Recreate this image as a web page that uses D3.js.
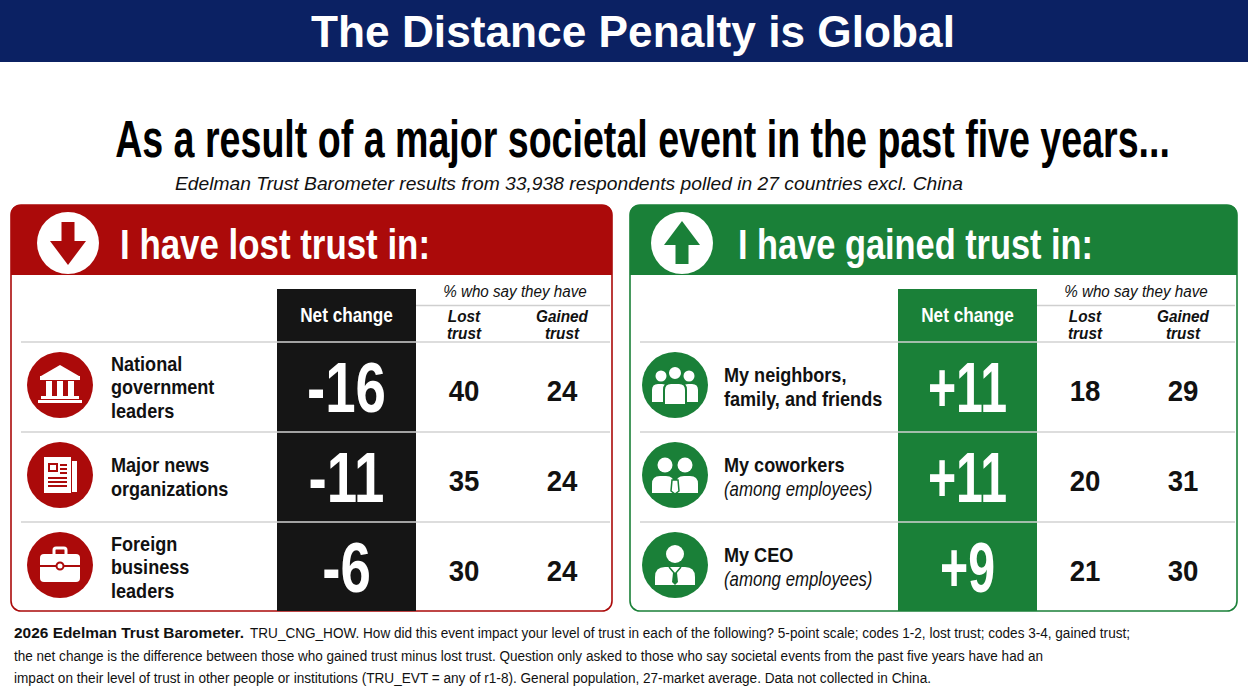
<!DOCTYPE html>
<html lang="en">
<head>
<meta charset="utf-8">
<title>The Distance Penalty is Global</title>
<style>
  html, body { margin: 0; padding: 0; background: #fff; }
  svg { display: block; }
  text { font-family: "Liberation Sans", Arial, Helvetica, sans-serif; }
</style>
</head>
<body>
<script src="https://cdn.jsdelivr.net/npm/d3@7/dist/d3.min.js"></script>
<script>
// data
var rowIdx = [0, 1, 2];
var colKeys = ["net", "lost", "gained"];
var colHeads = [["Lost", "trust"], ["Gained", "trust"]];

var lostLabels = [["National", "government", "leaders"], ["Major news", "organizations"], ["Foreign", "business", "leaders"]];
var lostNet = [-16, -11, -6];
var lostLostPct = [40, 35, 30];
var lostGainedPct = [24, 24, 24];

var gainLabels = [["My neighbors,", "family, and friends"], ["My coworkers", "(among employees)"], ["My CEO", "(among employees)"]];
var gainNet = [11, 11, 9];
var gainLostPct = [18, 20, 21];
var gainGainedPct = [29, 31, 30];

var footLines = [
    ["2026 Edelman Trust Barometer.", "TRU_CNG_HOW. How did this event impact your level of trust in each of the following? 5-point scale; codes 1-2, lost trust; codes 3-4, gained trust;"],
    ["", "the net change is the difference between those who gained trust minus lost trust.  Question only asked to those who say societal events from the past five years have had an"],
    ["", "impact on their level of trust in other people or institutions (TRU_EVT = any of  r1-8). General population, 27-market average. Data not collected in China."]
];

var RED = "#ab0a0a", GREEN = "#1a8038", NAVY = "#0b2163", INK = "#111";

// squeeze text to fake a condensed face
function squeeze(sel, k) {
    sel.each(function () {
        var w = this.getComputedTextLength();
        d3.select(this).attr("textLength", w * k).attr("lengthAdjust", "spacingAndGlyphs");
    });
}
function fit(sel, w) {
    sel.attr("textLength", w).attr("lengthAdjust", "spacingAndGlyphs");
}

function topRounded(x, y, w, h, r) {
    return "M" + x + "," + (y + h) + "V" + (y + r) + "Q" + x + "," + y + " " + (x + r) + "," + y +
        "H" + (x + w - r) + "Q" + (x + w) + "," + y + " " + (x + w) + "," + (y + r) + "V" + (y + h) + "Z";
}
function roundTopBody(x0, y0, x1, y1, r) {
    return "M" + x0 + "," + y1 + "V" + (y0 + r) + "Q" + x0 + "," + y0 + " " + (x0 + r) + "," + y0 +
        "H" + (x1 - r) + "Q" + x1 + "," + y0 + " " + x1 + "," + (y0 + r) + "V" + y1 + "Z";
}

// icon painters, drawn around (0,0) on a coloured disc
var icons = {
    gov: function (g, c) {
        g.append("path").attr("d", "M-19,-9L0,-20L19,-9Z").attr("fill", "#fff");
        g.append("rect").attr("x", -20).attr("y", -9).attr("width", 40).attr("height", 4).attr("fill", "#fff");
        [-14, -3, 8].forEach(function (cx) {
            g.append("rect").attr("x", cx).attr("y", -4).attr("width", 6).attr("height", 15).attr("fill", "#fff");
        });
        g.append("rect").attr("x", -19).attr("y", 11).attr("width", 38).attr("height", 3).attr("fill", "#fff");
        g.append("rect").attr("x", -22).attr("y", 15).attr("width", 44).attr("height", 3).attr("fill", "#fff");
    },
    news: function (g, c) {
        g.append("rect").attr("x", 12).attr("y", -14).attr("width", 5).attr("height", 31).attr("fill", "#fff");
        g.append("rect").attr("x", -16).attr("y", -18).attr("width", 27).attr("height", 36).attr("fill", "#fff");
        g.append("rect").attr("x", -11).attr("y", -11).attr("width", 8).attr("height", 7).attr("fill", "none").attr("stroke", c).attr("stroke-width", 2);
        [-10, -6, -2].forEach(function (y) {
            g.append("rect").attr("x", 0).attr("y", y - 1).attr("width", 7).attr("height", 2).attr("fill", c);
        });
        [3, 7, 11].forEach(function (y) {
            g.append("rect").attr("x", -12).attr("y", y - 1).attr("width", 19).attr("height", 2).attr("fill", c);
        });
    },
    case: function (g, c) {
        g.append("rect").attr("x", -6).attr("y", -17).attr("width", 12).attr("height", 8).attr("rx", 2)
            .attr("fill", "none").attr("stroke", "#fff").attr("stroke-width", 3);
        g.append("rect").attr("x", -20).attr("y", -11).attr("width", 40).attr("height", 28).attr("rx", 4).attr("fill", "#fff");
        g.append("rect").attr("x", -20).attr("y", 0).attr("width", 40).attr("height", 2).attr("fill", c);
        g.append("circle").attr("cx", 0).attr("cy", 1).attr("r", 3.5).attr("fill", "#fff").attr("stroke", c).attr("stroke-width", 2);
    },
    people: function (g, c) {
        g.append("path").attr("d", roundTopBody(-23, -1, -7, 17, 6)).attr("fill", "#fff");
        g.append("path").attr("d", roundTopBody(7, -1, 23, 17, 6)).attr("fill", "#fff");
        g.append("circle").attr("cx", -14).attr("cy", -9).attr("r", 5.5).attr("fill", "#fff");
        g.append("circle").attr("cx", 14).attr("cy", -9).attr("r", 5.5).attr("fill", "#fff");
        g.append("path").attr("d", roundTopBody(-11, -2, 11, 20, 7)).attr("fill", "#fff").attr("stroke", c).attr("stroke-width", 2);
        g.append("circle").attr("cx", 0).attr("cy", -12).attr("r", 7).attr("fill", "#fff").attr("stroke", c).attr("stroke-width", 2);
    },
    coworkers: function (g, c) {
        g.append("circle").attr("cx", -10).attr("cy", -10).attr("r", 7.5).attr("fill", "#fff");
        g.append("circle").attr("cx", 10).attr("cy", -10).attr("r", 7.5).attr("fill", "#fff");
        g.append("path").attr("d", roundTopBody(-23, 1, -1, 18, 8)).attr("fill", "#fff");
        g.append("path").attr("d", roundTopBody(1, 1, 23, 18, 8)).attr("fill", "#fff");
        g.append("path").attr("d", "M-3,5L3,5L4,16L0,19L-4,16Z").attr("fill", "#fff").attr("stroke", c).attr("stroke-width", 1.5);
    },
    ceo: function (g, c) {
        g.append("circle").attr("cx", 0).attr("cy", -11).attr("r", 9).attr("fill", "#fff");
        g.append("path").attr("d", roundTopBody(-20, 2, 20, 20, 10)).attr("fill", "#fff");
        g.append("path").attr("d", "M-6,2L0,9L6,2").attr("fill", "none").attr("stroke", c).attr("stroke-width", 1.5);
        g.append("path").attr("d", "M-2,8L2,8L3,17L0,20L-3,17Z").attr("fill", c);
    }
};

function drawPanel(svg, cfg) {
    var x = cfg.x, y = 205, w = cfg.w, h = 406, headH = 70;
    var g = svg.append("g");

    g.append("rect").attr("x", x).attr("y", y).attr("width", w).attr("height", h)
        .attr("rx", 10).attr("fill", "#fff").attr("stroke", cfg.color).attr("stroke-width", 1.6);
    g.append("path").attr("d", topRounded(x, y, w, headH, 10)).attr("fill", cfg.color);

    // arrow badge
    var badge = g.append("g").attr("transform", "translate(" + (x + cfg.badgeX) + "," + (y + 38) + ")" + (cfg.up ? " rotate(180)" : ""));
    badge.append("circle").attr("r", 31).attr("fill", "#fff");
    badge.append("rect").attr("x", -6.5).attr("y", -21).attr("width", 13).attr("height", 21).attr("fill", cfg.color);
    badge.append("path").attr("d", "M-18,-2L18,-2L0,22Z").attr("fill", cfg.color);

    g.append("text").attr("x", x + cfg.titleX).attr("y", y + 54).attr("fill", "#fff")
        .attr("font-size", 43).attr("font-weight", "bold").text(cfg.title)
        .call(fit, cfg.titleW);

    // columns
    var netX0 = x + cfg.netX, netW = 139;
    var xc = d3.scaleOrdinal().domain(colKeys).range([netX0 + netW / 2, netX0 + netW + 48, netX0 + netW + 146]);
    var yb = d3.scaleBand().domain(rowIdx).range([342, 612]);

    g.append("rect").attr("x", netX0).attr("y", 289).attr("width", netW).attr("height", 611 - 289).attr("fill", cfg.colColor);

    g.append("text").attr("x", xc("net")).attr("y", 322).attr("text-anchor", "middle")
        .attr("fill", "#fff").attr("font-size", 20).attr("font-weight", "bold").text("Net change")
        .call(squeeze, 0.86);

    g.append("text").attr("x", (xc("lost") + xc("gained")) / 2 + 2).attr("y", 297).attr("text-anchor", "middle")
        .attr("fill", INK).attr("font-size", 16).attr("font-style", "italic").text("% who say they have")
        .call(squeeze, 0.95);
    g.append("line").attr("x1", netX0 + netW).attr("x2", x + w - 2).attr("y1", 305.5).attr("y2", 305.5)
        .attr("stroke", "#cfcfcf").attr("stroke-width", 1.5);

    ["lost", "gained"].forEach(function (k, i) {
        colHeads[i].forEach(function (t, j) {
            g.append("text").attr("x", xc(k)).attr("y", 322 + j * 17).attr("text-anchor", "middle")
                .attr("fill", INK).attr("font-size", 17).attr("font-weight", "bold").attr("font-style", "italic")
                .text(t).call(squeeze, 0.9);
        });
    });

    // row rules
    g.selectAll(".rule").data(rowIdx).enter().append("line")
        .attr("x1", x + 10).attr("x2", x + w - 2)
        .attr("y1", function (d) { return yb(d); }).attr("y2", function (d) { return yb(d); })
        .attr("stroke", "#d2d2d2").attr("stroke-width", 1.5);

    var rows = g.selectAll(".row").data(rowIdx).enter().append("g")
        .attr("transform", function (d) { return "translate(0," + (yb(d) + yb.bandwidth() / 2) + ")"; });

    rows.each(function (d) {
        var r = d3.select(this);
        var ic = r.append("g").attr("transform", "translate(" + (x + cfg.iconX) + ",-2)");
        ic.append("circle").attr("r", 33).attr("fill", cfg.color);
        icons[cfg.icons[d]](ic, cfg.color);

        var lines = cfg.labels[d], n = lines.length;
        lines.forEach(function (t, i) {
            var it = t.charAt(0) === "(";
            r.append("text").attr("x", x + cfg.labelX).attr("y", 7 + (i - (n - 1) / 2) * 23.5)
                .attr("fill", INK).attr("font-size", 21)
                .attr("font-weight", it ? "normal" : "bold").attr("font-style", it ? "italic" : "normal")
                .text(t).call(squeeze, it ? 0.8 : 0.86);
        });

        r.append("text").attr("x", xc("net")).attr("y", 25).attr("text-anchor", "middle")
            .attr("fill", "#fff").attr("font-size", 71).attr("font-weight", "bold")
            .text((cfg.net[d] > 0 ? "+" : "") + cfg.net[d]).call(squeeze, cfg.net[d] > 0 ? 0.68 : 0.77);
        r.append("text").attr("x", xc("lost")).attr("y", 14).attr("text-anchor", "middle")
            .attr("fill", INK).attr("font-size", 30).attr("font-weight", "bold")
            .text(cfg.lost[d]).call(squeeze, 0.92);
        r.append("text").attr("x", xc("gained")).attr("y", 14).attr("text-anchor", "middle")
            .attr("fill", INK).attr("font-size", 30).attr("font-weight", "bold")
            .text(cfg.gained[d]).call(squeeze, 0.92);
    });
}

function main() {
    var width = 1248, height = 694;
    var svg = d3.select("body").append("svg").attr("width", width).attr("height", height);

    svg.append("rect").attr("width", width).attr("height", height).attr("fill", "#fff");

    // banner
    svg.append("rect").attr("width", width).attr("height", 62).attr("fill", NAVY);
    svg.append("text").attr("x", 633).attr("y", 47).attr("text-anchor", "middle").attr("fill", "#fff")
        .attr("font-size", 44).attr("font-weight", "bold").text("The Distance Penalty is Global")
        .call(fit, 644);

    // headline: drawn small, then stretched to the condensed look
    var head = svg.append("g").attr("transform", "translate(642.5,157)");
    var ht = head.append("text").attr("text-anchor", "middle").attr("fill", "#000")
        .attr("font-size", 32).attr("font-weight", "bold")
        .text("As a result of a major societal event in the past five years...");
    var hw = ht.node().getComputedTextLength();
    ht.attr("transform", "scale(" + (1055 / hw) + "," + (52 / 32) + ")");

    svg.append("text").attr("x", 175).attr("y", 190).attr("fill", "#111")
        .attr("font-size", 19).attr("font-style", "italic")
        .text("Edelman Trust Barometer results from 33,938 respondents polled in 27 countries excl. China")
        .call(fit, 788);

    drawPanel(svg, {
        x: 11, w: 601, color: RED, colColor: "#151515", up: false,
        badgeX: 57, titleX: 109, netX: 266, iconX: 49, labelX: 100,
        title: "I have lost trust in:", titleW: 310,
        labels: lostLabels, net: lostNet, lost: lostLostPct, gained: lostGainedPct,
        icons: ["gov", "news", "case"]
    });
    drawPanel(svg, {
        x: 630, w: 607, color: GREEN, colColor: GREEN, up: true,
        badgeX: 52, titleX: 108, netX: 268, iconX: 45, labelX: 94,
        title: "I have gained trust in:", titleW: 355,
        labels: gainLabels, net: gainNet, lost: gainLostPct, gained: gainGainedPct,
        icons: ["people", "coworkers", "ceo"]
    });

    // footnote
    var footW = [[230, 880], [0, 1029], [0, 917]];
    footLines.forEach(function (ln, i) {
        var by = 638 + i * 22.5;
        if (ln[0]) {
            svg.append("text").attr("x", 14).attr("y", by).attr("fill", "#111")
                .attr("font-size", 14).attr("font-weight", "bold").text(ln[0]).call(fit, footW[i][0]);
        }
        svg.append("text").attr("x", ln[0] ? 250 : 14).attr("y", by).attr("fill", "#111")
            .attr("font-size", 14).text(ln[1]).call(fit, footW[i][1]);
    });
}

window.onload = function () {
    main();
};
</script>
</body>
</html>
